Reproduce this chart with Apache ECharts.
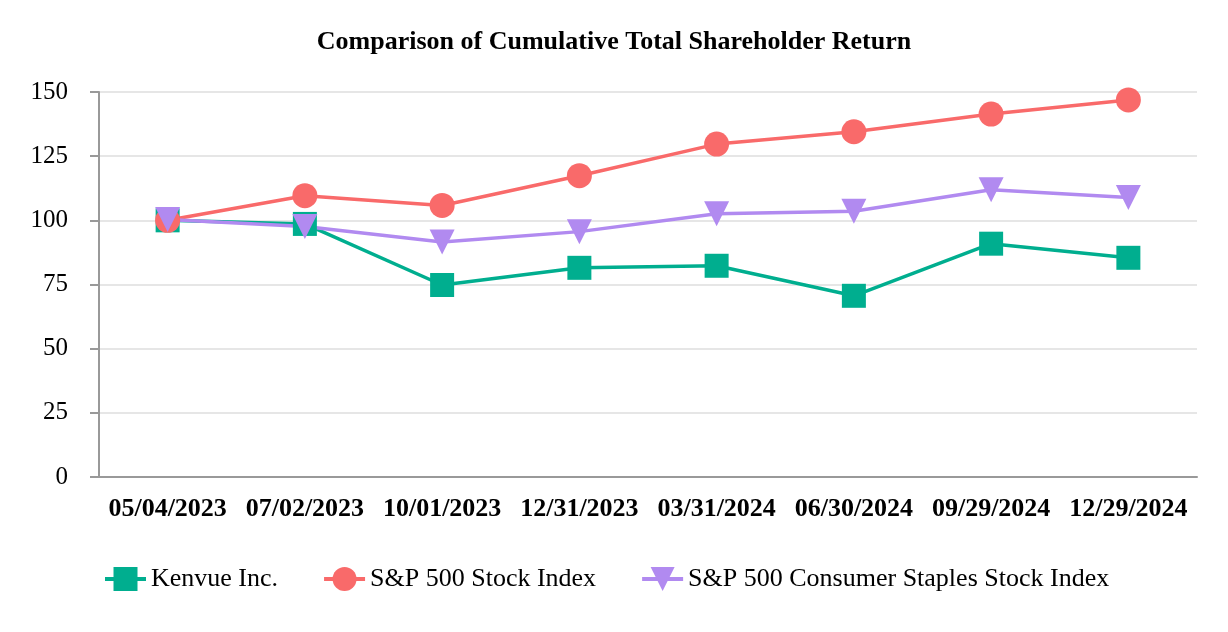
<!DOCTYPE html>
<html><head><meta charset="utf-8">
<script src="https://cdn.jsdelivr.net/npm/echarts@6/dist/echarts.min.js"></script>
<style>html,body{margin:0;padding:0;background:#fff}#c{width:1228px;height:632px}</style>
</head><body><div id="c"></div>
<script>
var categories = ["05/04/2023","07/02/2023","10/01/2023","12/31/2023","03/31/2024","06/30/2024","09/29/2024","12/29/2024"];
var kenvue = [100, 98.6, 74.8, 81.5, 82.3, 70.6, 90.9, 85.4];
var sp500 = [100, 109.6, 105.8, 117.4, 129.7, 134.5, 141.4, 146.9];
var staples = [100.3, 97.6, 91.6, 95.6, 102.6, 103.5, 111.9, 108.9];
var yTicks = [0, 25, 50, 75, 100, 125, 150];

var font = '"Liberation Serif","Times New Roman",serif';
var chart = echarts.init(document.getElementById('c'), null, {renderer:'canvas'});
chart.setOption({
  animation:false,
  title:{text:'Comparison of Cumulative Total Shareholder Return',left:'center',top:24,
    textStyle:{fontFamily:font,fontSize:26,fontWeight:'bold',color:'#000'}},
  grid:{left:99,right:31,top:92,bottom:155},
  legend:{top:561,left:98,itemWidth:41,itemHeight:30,itemGap:44,
    lineStyle:{width:4},
    textStyle:{fontFamily:font,fontSize:26,color:'#000'},
    data:['Kenvue Inc.','S&P 500 Stock Index','S&P 500 Consumer Staples Stock Index']},
  xAxis:{type:'category',data:categories,boundaryGap:true,
    axisLine:{lineStyle:{color:'#999',width:2}},
    axisTick:{alignWithLabel:true,length:10,lineStyle:{color:'#999',width:2}},
    axisLabel:{fontFamily:font,fontSize:26,fontWeight:'bold',color:'#000',margin:19,interval:0}},
  yAxis:{type:'value',min:yTicks[0],max:yTicks[yTicks.length-1],interval:25,
    axisLine:{show:true,lineStyle:{color:'#999',width:2}},
    axisTick:{show:true,length:9,lineStyle:{color:'#999',width:2}},
    axisLabel:{fontFamily:font,fontSize:25,color:'#000',margin:31},
    splitLine:{lineStyle:{color:'#e6e6e6',width:2}}},
  series:[
    {name:'Kenvue Inc.',type:'line',data:kenvue,symbol:'rect',symbolSize:24,
      lineStyle:{width:3.5,color:'#00ae8f'},itemStyle:{color:'#00ae8f'}},
    {name:'S&P 500 Stock Index',type:'line',data:sp500,symbol:'circle',symbolSize:25,
      lineStyle:{width:3.5,color:'#f96a6a'},itemStyle:{color:'#f96a6a'}},
    {name:'S&P 500 Consumer Staples Stock Index',type:'line',data:staples,symbol:'triangle',symbolRotate:180,symbolSize:25,
      lineStyle:{width:3.5,color:'#b18af0'},itemStyle:{color:'#b18af0'}}
  ]
});
</script></body></html>
